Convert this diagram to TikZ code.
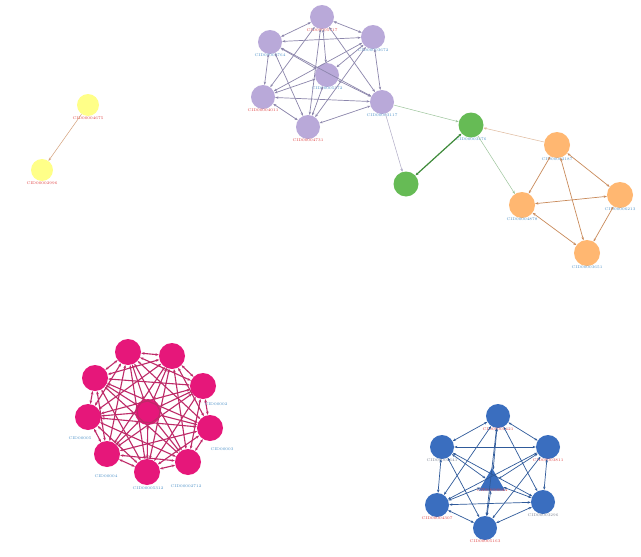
\documentclass[tikz,border=0pt]{standalone}
\usetikzlibrary{shapes.geometric,arrows.meta}
\definecolor{cyel}{HTML}{FFFF88}
\definecolor{cpur}{HTML}{B9A9D9}
\definecolor{cpure}{HTML}{8C86AC}
\definecolor{cgrn}{HTML}{66BB55}
\definecolor{cgrne}{HTML}{3E8A3A}
\definecolor{cora}{HTML}{FFB771}
\definecolor{corae}{HTML}{C98A5A}
\definecolor{cpnk}{HTML}{E6177A}
\definecolor{cpnke}{HTML}{BE2A68}
\definecolor{cblu}{HTML}{3A6EBF}
\definecolor{cblue}{HTML}{2F5A9A}
\definecolor{labred}{HTML}{E04040}
\definecolor{labblu}{HTML}{4A90C8}
\definecolor{labgry}{HTML}{7A8090}
\tikzset{
  x=1pt,y=-1pt,
  lab/.style={font=\fontsize{3.9}{4.3}\selectfont,inner sep=0.5pt},
  vtx/.style={circle,minimum size=24pt,inner sep=0pt,draw=none},
  yv/.style={vtx,fill=cyel,minimum size=22pt},
  pv/.style={vtx,fill=cpur},
  gv/.style={vtx,fill=cgrn,minimum size=25pt},
  ov/.style={vtx,fill=cora,minimum size=26pt},
  kv/.style={vtx,fill=cpnk,minimum size=26pt},
  bv/.style={vtx,fill=cblu,minimum size=24pt},
  tip/.style={-{Stealth[length=3.2pt,width=2.4pt]}},
  dtip/.style={{Stealth[length=3.2pt,width=2.4pt]}-{Stealth[length=3.2pt,width=2.4pt]}},
  pe/.style={dtip,draw=cpure,line width=0.7pt},
  ke/.style={{Stealth[length=3.4pt,width=2.6pt]}-{Stealth[length=3.4pt,width=2.6pt]},draw=cpnke,line width=1.1pt},
  be/.style={dtip,draw=cblue,line width=0.7pt},
  oe/.style={dtip,draw=corae,line width=0.7pt},
}
\begin{document}
\begin{tikzpicture}
\useasboundingbox (0,0) rectangle (641,557);
\fill[white] (0,0) rectangle (641,557);

% yellow pair
\node[yv,label={[lab,text=labred]below:CID00004675}] (y1) at (88,105) {};
\node[yv,label={[lab,text=labred]below:CID00002996}] (y2) at (42,170) {};
\draw[tip,draw=corae!80,line width=0.5pt] (y1) -- (y2);

% purple cluster
\node[pv,label={[lab,text=labred,yshift=1pt]below:CID00005717}] (p1) at (322,17) {};
\node[pv,label={[lab,text=labblu,yshift=1pt]below:CID00003672}] (p2) at (373,37) {};
\node[pv,label={[lab,text=labblu,yshift=1pt]below:CID00002764}] (p3) at (270,42) {};
\node[pv,label={[lab,text=labblu,yshift=1pt]below:CID00005372}] (p4) at (327,75) {};
\node[pv,label={[lab,text=labred,yshift=1pt]below:CID00004011}] (p5) at (263,97) {};
\node[pv,label={[lab,text=labblu,yshift=1pt]below:CID00003117}] (p6) at (382,102) {};
\node[pv,label={[lab,text=labred,yshift=1pt]below:CID00004731}] (p7) at (308,127) {};
\foreach \i in {1,...,7}{\foreach \j in {1,...,7}{\ifnum\i<\j \draw[pe] (p\i) -- (p\j);\fi}}

% green pair
\node[gv,label={[lab,text=labblu,yshift=1pt]below:CID00003476}] (g1) at (471,125) {};
\node[gv] (g2) at (406,184) {};
\draw[dtip,draw=cgrne,line width=1.2pt] (g1) -- (g2);
\draw[tip,draw=cpure!70,line width=0.5pt] (p6) -- (g2);
\draw[tip,draw=cgrne!50,line width=0.5pt] (p6) -- (g1);

% orange cluster
\node[ov,label={[lab,text=labblu,yshift=1pt]below:CID00002187}] (o1) at (557,145) {};
\node[ov,label={[lab,text=labblu,yshift=1pt]below:CID00006213}] (o2) at (620,195) {};
\node[ov,label={[lab,text=labblu,yshift=1pt]below:CID00004878}] (o3) at (522,205) {};
\node[ov,label={[lab,text=labblu,yshift=1pt]below:CID00003651}] (o4) at (587,253) {};
\foreach \i/\j in {1/2,1/3,1/4,2/3,2/4,3/4}{\draw[oe] (o\i) -- (o\j);}
\draw[tip,draw=corae!60,line width=0.5pt] (o1) -- (g1);
\draw[tip,draw=cgrne!50,line width=0.5pt] (g1) -- (o3);

% pink cluster
\node[kv] (k1) at (128,352) {};
\node[kv] (k2) at (172,356) {};
\node[kv] (k3) at (203,386) {};
\node[kv] (k4) at (210,428) {};
\node[kv] (k5) at (188,462) {};
\node[kv] (k6) at (147,472) {};
\node[kv] (k7) at (107,454) {};
\node[kv] (k8) at (88,417) {};
\node[kv] (k9) at (95,378) {};
\node[kv] (k0) at (148,412) {};
\foreach \i in {0,...,9}{\foreach \j in {0,...,9}{\ifnum\i<\j \draw[ke] (k\i) -- (k\j);\fi}}
\node[lab,text=labblu] (kl3) at (216,404) {CID00002};
\node[lab,text=labblu] (kl8) at (80,438) {CID00005};
\node[lab,text=labblu] (kl7) at (106,476) {CID00004};
\node[lab,text=labblu] (kl6) at (148,488) {CID00005312};
\node[lab,text=labblu] (kl5) at (186,486) {CID00002712};
\node[lab,text=labblu] (kl4) at (222,449) {CID00003};

% blue cluster
\node[bv,label={[lab,text=labred,yshift=1pt]below:CID00005421}] (b1) at (498,416) {};
\node[bv,label={[lab,text=labred,yshift=1pt]below:CID00003811}] (b2) at (548,447) {};
\node[bv,label={[lab,text=labgry,yshift=1pt]below:CID00002641}] (b3) at (442,447) {};
\node[regular polygon,regular polygon sides=3,fill=cblu,minimum size=30pt,inner sep=0pt,label={[lab,text=labred,yshift=3pt]below:CID00006044}] (b4) at (492,483) {};
\node[bv,label={[lab,text=labred,yshift=1pt]below:CID00004307}] (b5) at (437,505) {};
\node[bv,label={[lab,text=labgry,yshift=1pt]below:CID00003296}] (b6) at (543,502) {};
\node[bv,label={[lab,text=labred,yshift=1pt]below:CID00005163}] (b7) at (485,528) {};
\foreach \i in {1,...,7}{\foreach \j in {1,...,7}{\ifnum\i<\j \draw[be] (b\i) -- (b\j);\fi}}
\end{tikzpicture}
\end{document}
